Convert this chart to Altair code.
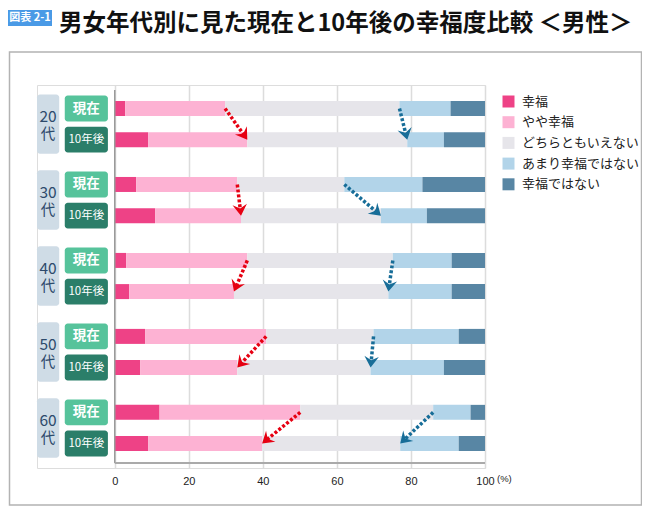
import math
import altair as alt
import pandas as pd

# ---------------- data ----------------
ages = ["20代", "30代", "40代", "50代", "60代"]
periods = ["現在", "10年後"]
categories = ["幸福", "やや幸福", "どちらともいえない", "あまり幸福ではない", "幸福ではない"]
colors = ["#ee4286", "#fdb2d3", "#e6e5ea", "#b2d4e9", "#5886a4"]

# rows: 20代現在, 20代10年後, 30代現在, 30代10年後, ... 60代10年後
happy = [2.8, 9.0, 5.8, 10.9, 3.1, 3.9, 8.2, 6.9, 12.1, 9.0]
rather_happy = [27.0, 26.8, 27.3, 23.2, 32.7, 28.3, 32.7, 26.2, 38.0, 30.8]
neutral = [47.1, 43.2, 28.9, 37.8, 39.3, 41.7, 29.0, 36.0, 35.9, 37.3]
rather_unhappy = [13.8, 9.9, 21.1, 12.4, 15.9, 17.1, 23.0, 19.8, 10.1, 15.8]
unhappy = [9.3, 11.1, 16.9, 15.7, 9.0, 9.0, 7.1, 11.1, 3.9, 7.1]

x_ticks = [0, 20, 40, 60, 80, 100]
title_text = "男女年代別に見た現在と10年後の幸福度比較 ＜男性＞"
badge_text = "図表 2-1"

# ---------------- layout ----------------
W, H = 448, 383
XMIN, XMAX = -21, 100
PXU = W / (XMAX - XMIN)
ROW_TOP, ROW_STEP, GROUP_STEP = 19, 32, 78
BAR = 15

series = [happy, rather_happy, neutral, rather_unhappy, unhappy]

def pos(gi, ri):
    return ROW_TOP + gi * GROUP_STEP + ri * ROW_STEP

bar_rows = []
cum = {}
for gi, age in enumerate(ages):
    for ri, per in enumerate(periods):
        idx = gi * 2 + ri
        start = 0.0
        cums = []
        for ci, cat in enumerate(categories):
            v = series[ci][idx]
            bar_rows.append(dict(age=age, period=per, cat=cat, order=ci,
                                 start=start, end=start + v, pos=pos(gi, ri)))
            start += v
            cums.append(start)
        cum[(gi, ri)] = cums
bars = pd.DataFrame(bar_rows)

xscale = alt.Scale(domain=[XMIN, XMAX], nice=False, zero=False)
yscale = alt.Scale(domain=[0, H], reverse=True, nice=False, zero=False)
xaxis = alt.Axis(values=x_ticks, grid=True, gridColor="#dcdcdc", gridWidth=1.5,
                 domain=False, ticks=False, tickSize=0, labelPadding=7,
                 labelFont="Liberation Sans", labelFontSize=11, labelColor="#222",
                 labelFlush=False)

bar_layer = alt.Chart(bars).mark_bar(size=BAR).encode(
    x=alt.X("start:Q", scale=xscale, axis=xaxis, title=None),
    x2="end:Q",
    y=alt.Y("pos:Q", scale=yscale, axis=None),
    color=alt.Color("cat:N", scale=alt.Scale(domain=categories, range=colors), title=None,
                    legend=alt.Legend(orient="none", legendX=465, legendY=10,
                                      direction="vertical", symbolType="square",
                                      symbolSize=144, symbolStrokeWidth=0, symbolOpacity=1,
                                      labelFont="Noto Sans CJK JP", labelFontSize=13,
                                      labelColor="#222", rowPadding=6.7, labelOffset=7,
                                      padding=0)),
    order="order:Q",
)

# axis lines
left_line = alt.Chart(pd.DataFrame({"x": [0], "y": [0], "y2": [H]})).mark_rule(
    color="#9a9a9a", strokeWidth=1.5).encode(
    x=alt.X("x:Q", scale=xscale, axis=xaxis, title=None),
    y=alt.Y("y:Q", scale=yscale, axis=None), y2="y2:Q")
bottom_line = alt.Chart(pd.DataFrame({"x": [0], "x2": [100], "y": [H]})).mark_rule(
    color="#aaaaaa", strokeWidth=2).encode(
    x=alt.X("x:Q", scale=xscale, axis=xaxis, title=None), x2="x2:Q",
    y=alt.Y("y:Q", scale=yscale, axis=None))
pct = alt.Chart(pd.DataFrame({"x": [100], "y": [H], "t": ["(%)"]})).mark_text(
    align="left", baseline="middle", dx=12, dy=16, fontSize=9.5, font="Liberation Sans",
    color="#222").encode(
    x=alt.X("x:Q", scale=xscale, axis=xaxis, title=None),
    y=alt.Y("y:Q", scale=yscale, axis=None), text="t:N")

# left label boxes
grp = pd.DataFrame([dict(x=-21, x2=-15, y=pos(gi, 0) - 14.5, y2=pos(gi, 1) + 14.5,
                         xc=-18, ny=pos(gi, 0) + 9, ky=pos(gi, 0) + 27,
                         num=age[:-1], kan=age[-1]) for gi, age in enumerate(ages)])
per_rows = []
for gi in range(len(ages)):
    for ri, per in enumerate(periods):
        per_rows.append(dict(x=-13.5, x2=-1.85, y=pos(gi, ri) - 13.3, y2=pos(gi, ri) + 13.3,
                             xc=(-13.5 - 1.85) / 2, ty=pos(gi, ri), label=per, ri=ri))
perdf = pd.DataFrame(per_rows)

def box(df, color):
    return alt.Chart(df).mark_rect(color=color, cornerRadius=3).encode(
        x=alt.X("x:Q", scale=xscale, axis=xaxis, title=None), x2="x2:Q",
        y=alt.Y("y:Q", scale=yscale, axis=None), y2="y2:Q")

def label(df, ycol, tcol, **kw):
    return alt.Chart(df).mark_text(font="Noto Sans CJK JP", baseline="middle", **kw).encode(
        x=alt.X("xc:Q", scale=xscale, axis=xaxis, title=None),
        y=alt.Y(f"{ycol}:Q", scale=yscale, axis=None), text=f"{tcol}:N")

grp_box = box(grp, "#cfdce6")
now_box = box(perdf[perdf.ri == 0], "#56c39b")
fut_box = box(perdf[perdf.ri == 1], "#2b7e69")

grp_num = label(grp, "ny", "num", fontSize=15.5, color="#2d4a6b")
grp_kan = label(grp, "ky", "kan", fontSize=14.5, color="#2d4a6b")
now_txt = label(perdf[perdf.ri == 0], "ty", "label", fontSize=13.5, fontWeight="bold",
                color="white")
fut_txt = label(perdf[perdf.ri == 1], "ty", "label", fontSize=11.5, color="white")

# arrows (from boundary in 現在 row to boundary in 10年後 row)
arr = []
for gi in range(len(ages)):
    for kind, k in [("red", 1), ("blue", 2)]:
        x1 = cum[(gi, 0)][k]
        x2 = cum[(gi, 1)][k]
        y1, y2 = pos(gi, 0), pos(gi, 1)
        dxp, dyp = (x2 - x1) * PXU, (y2 - y1)
        L = math.hypot(dxp, dyp)
        back = 4.0
        arr.append(dict(kind=kind, x1=x1, y1=y1,
                        xe=x2 - dxp / L * back / PXU, ye=y2 - dyp / L * back,
                        xt=x2, yt=y2,
                        ang=(math.degrees(math.atan2(-dxp, dyp)) + 360) % 360))
arrdf = pd.DataFrame(arr)
HEAD = "M0,0 L-1,-1.55 L0,-1 L1,-1.55 Z"

def arrow_layers(kind, col):
    d = arrdf[arrdf.kind == kind]
    line = alt.Chart(d).mark_rule(color=col, strokeWidth=3.5, strokeDash=[3, 2]).encode(
        x=alt.X("x1:Q", scale=xscale, axis=xaxis, title=None), x2="xe:Q",
        y=alt.Y("y1:Q", scale=yscale, axis=None), y2="ye:Q")
    head = alt.Chart(d).mark_point(shape=HEAD, filled=True, size=210, color=col,
                                   opacity=1, strokeWidth=0).encode(
        x=alt.X("xt:Q", scale=xscale, axis=xaxis, title=None),
        y=alt.Y("yt:Q", scale=yscale, axis=None),
        angle=alt.Angle("ang:Q", scale=None))
    return [line, head]

# title + frame
one = pd.DataFrame({"a": [1]})
frame = alt.Chart(one).mark_rect(fillOpacity=0, stroke="#b3b3b3", strokeWidth=1.5).encode(
    x=alt.value(-27.5), x2=alt.value(604.5), y=alt.value(-33), y2=alt.value(420))
badge = alt.Chart(one).mark_rect(color="#4a9ae6").encode(
    x=alt.value(-29), x2=alt.value(15), y=alt.value(-75), y2=alt.value(-59))
badge_txt = alt.Chart(one).mark_text(color="white", fontSize=11, fontWeight="bold",
                                     font="Noto Sans CJK JP", baseline="middle").encode(
    x=alt.value(-7), y=alt.value(-67), text=alt.value(badge_text))
title = alt.Chart(one).mark_text(color="#111", fontSize=23.5, fontWeight="bold",
                                 font="Noto Sans CJK JP", baseline="middle",
                                 align="left").encode(
    x=alt.value(22), y=alt.value(-61), text=alt.value(title_text))

chart = alt.layer(
    frame, badge, badge_txt, title,
    bar_layer, left_line, bottom_line, pct,
    grp_box, now_box, fut_box, grp_num, grp_kan, now_txt, fut_txt,
    *arrow_layers("red", "#e60012"), *arrow_layers("blue", "#176d98"),
).properties(
    width=W, height=H,
    autosize=alt.AutoSizeParams(type="none"),
    padding={"left": 29, "top": 77, "right": 157, "bottom": 38},
).configure_view(strokeWidth=0).configure(background="white")

chart.save("out.html", embed_options={"renderer": "svg", "actions": False})
